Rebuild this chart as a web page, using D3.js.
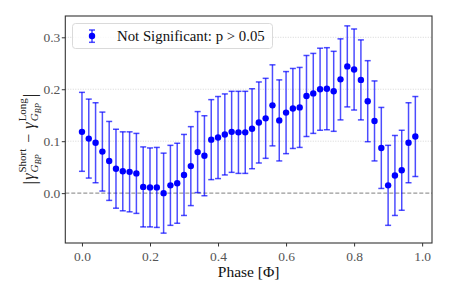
<!DOCTYPE html>
<html>
<head>
<meta charset="utf-8">
<script src="https://cdn.jsdelivr.net/npm/d3@7"></script>
<style>
  body { margin: 0; background: #fff; }
  text { font-family: 'Liberation Serif', 'DejaVu Serif', serif; }
</style>
</head>
<body>
<div id="chart"></div>
<script>
// phase bins
var phases = [0.00, 0.02, 0.04, 0.06, 0.08, 0.10, 0.12, 0.14, 0.16, 0.18,
  0.20, 0.22, 0.24, 0.26, 0.28, 0.30, 0.32, 0.34, 0.36, 0.38,
  0.40, 0.42, 0.44, 0.46, 0.48, 0.50, 0.52, 0.54, 0.56, 0.58,
  0.60, 0.62, 0.64, 0.66, 0.68, 0.70, 0.72, 0.74, 0.76, 0.78,
  0.80, 0.82, 0.84, 0.86, 0.88, 0.90, 0.92, 0.94, 0.96, 0.98]

// |gamma short - gamma long|
var diffs = [0.118, 0.105, 0.097, 0.080, 0.062, 0.047, 0.042, 0.041, 0.038, 0.012,
  0.011, 0.011, 0.000, 0.015, 0.019, 0.035, 0.052, 0.079, 0.072, 0.103,
  0.107, 0.113, 0.118, 0.117, 0.117, 0.124, 0.136, 0.144, 0.169, 0.140,
  0.155, 0.163, 0.165, 0.187, 0.192, 0.200, 0.201, 0.196, 0.219, 0.244,
  0.238, 0.218, 0.177, 0.139, 0.087, 0.015, 0.034, 0.044, 0.097, 0.109]

var errors = [0.076, 0.076, 0.077, 0.076, 0.076, 0.076, 0.076, 0.077, 0.077, 0.077,
  0.076, 0.077, 0.077, 0.077, 0.077, 0.078, 0.076, 0.078, 0.077, 0.077,
  0.079, 0.078, 0.078, 0.079, 0.079, 0.077, 0.078, 0.077, 0.078, 0.078,
  0.079, 0.077, 0.077, 0.078, 0.077, 0.079, 0.079, 0.077, 0.078, 0.078,
  0.078, 0.077, 0.078, 0.077, 0.078, 0.077, 0.077, 0.077, 0.077, 0.077]

var xTicks = [0.0, 0.2, 0.4, 0.6, 0.8, 1.0]
var yTicks = [0.0, 0.1, 0.2, 0.3]
var legendLabel = 'Not Significant: p > 0.05'

var width = 449
var height = 299
var plot = { left: 65.3, right: 432, top: 16, bottom: 243 }

var svg = d3
  .select('#chart')
  .append('svg')
  .attr('width', width)
  .attr('height', height)

var xScale = d3.scaleLinear().domain([-0.049, 1.029]).range([plot.left, plot.right])
var yScale = d3.scaleLinear().domain([-0.096, 0.341]).range([plot.bottom, plot.top])

// light dotted grid
svg
  .append('g')
  .selectAll('line')
  .data(yTicks.filter(d => d > 0))
  .enter()
  .append('line')
  .attr('x1', plot.left)
  .attr('x2', plot.right)
  .attr('y1', d => yScale(d))
  .attr('y2', d => yScale(d))
  .attr('stroke', '#cccccc')
  .attr('stroke-width', 0.8)
  .attr('stroke-dasharray', '1,1.5')

// zero line
svg
  .append('line')
  .attr('x1', plot.left)
  .attr('x2', plot.right)
  .attr('y1', yScale(0))
  .attr('y2', yScale(0))
  .attr('stroke', '#999999')
  .attr('stroke-width', 1.2)
  .attr('stroke-dasharray', '4,2')

var points = phases.map((p, i) => ({ phase: p, value: diffs[i], err: errors[i] }))

// error bars
var bars = svg.append('g').attr('stroke', 'blue').attr('stroke-opacity', 0.7).attr('stroke-width', 1.5)

bars
  .selectAll('.bar')
  .data(points)
  .enter()
  .append('line')
  .attr('x1', d => xScale(d.phase))
  .attr('x2', d => xScale(d.phase))
  .attr('y1', d => yScale(d.value - d.err))
  .attr('y2', d => yScale(d.value + d.err))

bars
  .selectAll('.cap-top')
  .data(points)
  .enter()
  .append('line')
  .attr('x1', d => xScale(d.phase) - 3)
  .attr('x2', d => xScale(d.phase) + 3)
  .attr('y1', d => yScale(d.value + d.err))
  .attr('y2', d => yScale(d.value + d.err))

bars
  .selectAll('.cap-bottom')
  .data(points)
  .enter()
  .append('line')
  .attr('x1', d => xScale(d.phase) - 3)
  .attr('x2', d => xScale(d.phase) + 3)
  .attr('y1', d => yScale(d.value - d.err))
  .attr('y2', d => yScale(d.value - d.err))

svg
  .append('g')
  .selectAll('circle')
  .data(points)
  .enter()
  .append('circle')
  .attr('cx', d => xScale(d.phase))
  .attr('cy', d => yScale(d.value))
  .attr('r', 3.2)
  .attr('fill', 'blue')

// axes
var xAxis = svg
  .append('g')
  .attr('transform', `translate(0,${plot.bottom})`)
  .call(d3.axisBottom(xScale).tickValues(xTicks).tickFormat(d3.format('.1f')).tickSize(3.5).tickSizeOuter(0))

var yAxis = svg
  .append('g')
  .attr('transform', `translate(${plot.left},0)`)
  .call(d3.axisLeft(yScale).tickValues(yTicks).tickFormat(d3.format('.1f')).tickSize(3.5).tickSizeOuter(0))

xAxis.select('.domain').remove()
yAxis.select('.domain').remove()
svg.selectAll('.tick line').attr('stroke', '#333')
svg
  .selectAll('.tick text')
  .attr('fill', '#555')
  .style('font-family', "'Liberation Serif', serif")
  .style('font-size', '13.5px')
xAxis.selectAll('.tick text').attr('dy', '0.9em').attr('y', 5.5)
yAxis.selectAll('.tick text').attr('x', -5)

// frame
svg
  .append('rect')
  .attr('x', plot.left)
  .attr('y', plot.top)
  .attr('width', plot.right - plot.left)
  .attr('height', plot.bottom - plot.top)
  .attr('fill', 'none')
  .attr('stroke', '#333')
  .attr('stroke-width', 1.1)

// legend
var legend = svg.append('g')
legend
  .append('rect')
  .attr('x', 72.5)
  .attr('y', 23.5)
  .attr('width', 200)
  .attr('height', 25)
  .attr('rx', 3)
  .attr('fill', 'white')
  .attr('fill-opacity', 0.8)
  .attr('stroke', '#d6d6d6')
  .attr('stroke-width', 0.9)

var lg = legend.append('g').attr('stroke', 'blue').attr('stroke-opacity', 0.7).attr('stroke-width', 1.5)
lg.append('line').attr('x1', 92).attr('x2', 92).attr('y1', 30).attr('y2', 42.3)
lg.append('line').attr('x1', 89).attr('x2', 95).attr('y1', 30).attr('y2', 30)
lg.append('line').attr('x1', 89).attr('x2', 95).attr('y1', 42.3).attr('y2', 42.3)
legend.append('circle').attr('cx', 92).attr('cy', 36).attr('r', 3.2).attr('fill', 'blue')

legend
  .append('text')
  .attr('x', 117)
  .attr('y', 40.5)
  .attr('font-size', 14.8)
  .attr('fill', '#111')
  .text(legendLabel)

// x label
svg
  .append('text')
  .attr('x', (plot.left + plot.right) / 2)
  .attr('y', 277)
  .attr('text-anchor', 'middle')
  .attr('font-size', 15.5)
  .attr('fill', '#111')
  .text('Phase [Φ]')

// y label built from pieces so the scripts can stack
var yLab = svg.append('g').attr('transform', 'translate(34,139) rotate(-90)')
var inner = yLab.append('g').attr('fill', '#222')
var cx = 0

function piece(str, size, dy, italic) {
  var t = inner
    .append('text')
    .attr('x', cx)
    .attr('y', dy)
    .attr('font-size', size)
    .style('font-style', italic ? 'italic' : 'normal')
    .text(str)
  return t.node().getComputedTextLength()
}

function gammaTerm(sup) {
  cx += piece('γ', 16, 0, true) + 1
  var wSup = piece(sup, 11, -8, false)
  var wG = piece('G', 11, 4, true)
  var save = cx
  cx += wG
  var wBP = piece('BP', 8.5, 6.5, true)
  cx = save + Math.max(wSup, wG + wBP) + 1
}

cx += piece('|', 18, 2, false) + 1
gammaTerm('Short')
cx += 5
cx += piece('−', 16, 0, false) + 5
gammaTerm('Long')
cx += piece('|', 18, 2, false)

inner.attr('transform', `translate(${-cx / 2},0)`)
</script>
</body>
</html>
